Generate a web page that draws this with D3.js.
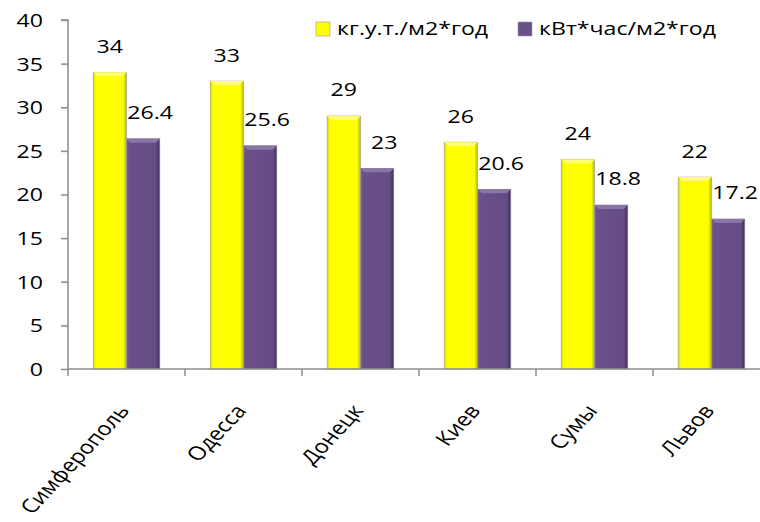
<!DOCTYPE html>
<html>
<head>
<meta charset="utf-8">
<script src="https://cdn.jsdelivr.net/npm/d3@7"></script>
<style>
  body { margin: 0; background: #fff; }
  svg text { font-family: "Open Sans", "DejaVu Sans", sans-serif; fill: #000; font-size: 18.5px; }
</style>
</head>
<body>
<div id="barChart"></div>
<script>
var cities = ["Симферополь", "Одесса", "Донецк", "Киев", "Сумы", "Львов"];
var seriesNames = ["кг.у.т./м2*год", "кВт*час/м2*год"];
var fuelValues = [34, 33, 29, 26, 24, 22];
var energyValues = [26.4, 25.6, 23, 20.6, 18.8, 17.2];
var yTicks = [0, 5, 10, 15, 20, 25, 30, 35, 40];

var width = 760, height = 522;
var margin = {top: 20, right: -10, bottom: 153, left: 68};
var innerW = width - margin.left - margin.right;
var innerH = height - margin.top - margin.bottom;
var stretch = 1.25; // the picture is wider than the font

var svg = d3.select("#barChart").append("svg")
  .attr("width", width)
  .attr("height", height);

var defs = svg.append("defs");
function grad(id, stops) {
  var gr = defs.append("linearGradient").attr("id", id)
    .attr("x1", "0").attr("x2", "1").attr("y1", "0").attr("y2", "0");
  stops.forEach(function(s) {
    gr.append("stop").attr("offset", s[0]).attr("stop-color", s[1]);
  });
}
grad("yel", [[0, "#d8d800"], [0.08, "#ffff00"], [0.9, "#ffff00"], [1, "#b8b800"]]);
grad("pur", [[0, "#7c6699"], [0.08, "#6a5089"], [0.88, "#654c84"], [1, "#3f2d57"]]);

var colors = ["url(#yel)", "url(#pur)"];
var topColors = ["#ffff70", "#8a76a6"];
var swatch = ["#ffff00", "#6a5089"];

var data = cities.map(function(c, i) {
  return {city: c, values: [fuelValues[i], energyValues[i]]};
});

var x0 = d3.scaleBand().domain(cities).range([0, innerW]).padding(0);
var x1 = d3.scaleBand().domain([0, 1]).range([0, x0.bandwidth()])
  .paddingInner(0).paddingOuter(0.755);
var y = d3.scaleLinear().domain([0, 40]).range([innerH, 0]);

var g = svg.append("g")
  .attr("transform", "translate(" + margin.left + "," + margin.top + ")");

// y axis
var yAxis = g.append("g")
  .call(d3.axisLeft(y).tickValues(yTicks).tickSize(7).tickFormat(""));
yAxis.selectAll("line, path").attr("stroke", "#8c8c8c").attr("stroke-width", 1.5);
yAxis.select(".domain").attr("d", "M-7," + y(40) + "H0V" + y(0));
yAxis.selectAll(".tick").append("text")
  .attr("text-anchor", "end")
  .attr("transform", "translate(-25,0) scale(" + stretch + ",1)")
  .attr("dy", "0.35em")
  .text(function(d) { return d; });

// bars
var groups = g.selectAll(".grp").data(data).enter().append("g")
  .attr("class", "grp")
  .attr("transform", function(d) { return "translate(" + x0(d.city) + ",0)"; });

var bars = groups.selectAll(".bar")
  .data(function(d) { return d.values.map(function(v, k) { return {k: k, v: v}; }); })
  .enter();

bars.append("rect")
  .attr("x", function(d) { return x1(d.k); })
  .attr("y", function(d) { return y(d.v); })
  .attr("width", x1.bandwidth())
  .attr("height", function(d) { return innerH - y(d.v); })
  .attr("fill", function(d) { return colors[d.k]; })
  .attr("stroke", "#9a9a9a")
  .attr("stroke-width", 0.6);

// bevel on top
bars.append("path")
  .attr("d", function(d) {
    var xa = x1(d.k), xb = xa + x1.bandwidth(), yt = y(d.v), b = 4;
    return "M" + xa + "," + yt + "L" + xb + "," + yt + "L" + (xb - b) + "," + (yt + b) +
      "L" + (xa + b) + "," + (yt + b) + "Z";
  })
  .attr("fill", function(d) { return topColors[d.k]; });

// value labels
bars.append("text")
  .attr("text-anchor", "middle")
  .attr("transform", function(d) {
    var cx = x1(d.k) + x1.bandwidth() / 2 + (d.k === 1 ? 7 : 0);
    return "translate(" + cx + "," + (y(d.v) - 26) + ") scale(" + stretch + ",1)";
  })
  .attr("dy", "0.35em")
  .text(function(d) { return d.v; });

// x axis
var xAxis = g.append("g")
  .attr("transform", "translate(0," + innerH + ")");
xAxis.append("line")
  .attr("x1", 0).attr("x2", innerW)
  .attr("stroke", "#8c8c8c").attr("stroke-width", 1.5);
xAxis.selectAll(".tk").data(cities).enter().append("line")
  .attr("x1", function(d) { return x0(d); })
  .attr("x2", function(d) { return x0(d); })
  .attr("y1", 0).attr("y2", 7)
  .attr("stroke", "#8c8c8c").attr("stroke-width", 1.5);
xAxis.selectAll(".lbl").data(cities).enter().append("text")
  .attr("text-anchor", "end")
  .attr("transform", function(d) {
    return "translate(" + (x0(d) + x0.bandwidth() / 2 + 4) + ",42) scale(" + stretch + ",1) rotate(-53)";
  })
  .style("font-size", "19px")
  .text(function(d) { return d; });

// legend
var legend = svg.append("g").attr("transform", "translate(316,22)");
var lx = [0, 202];
seriesNames.forEach(function(name, k) {
  var it = legend.append("g").attr("transform", "translate(" + lx[k] + ",0)");
  it.append("rect").attr("width", 14).attr("height", 14)
    .attr("fill", swatch[k]).attr("stroke", "#9a9a9a").attr("stroke-width", 0.6);
  it.append("text")
    .attr("transform", "translate(21,7) scale(" + stretch + ",1)")
    .attr("dy", "0.35em")
    .text(name);
});
</script>
</body>
</html>
